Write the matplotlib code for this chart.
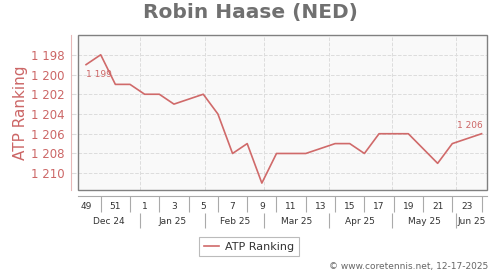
import datetime as dt

import matplotlib
matplotlib.use("Agg")
import matplotlib.pyplot as plt
from matplotlib.patches import Rectangle

# ISO weeks with a ranking (some weeks have no entry)
weeks = [49, 50, 51, 52, 1, 2, 3, 5, 6, 7, 8, 9, 10, 11, 12, 14, 15, 16, 17, 18, 19, 21, 22, 24]
ranks = [1199, 1198, 1201, 1201, 1202, 1202, 1203, 1202, 1204, 1208, 1207, 1211,
         1208, 1208, 1208, 1207, 1207, 1208, 1206, 1206, 1206, 1209, 1207, 1206]

week_ticks = [49, 51, 1, 3, 5, 7, 9, 11, 13, 15, 17, 19, 21, 23]
months = ["Dec 24", "Jan 25", "Feb 25", "Mar 25", "Apr 25", "May 25", "Jun 25"]
month_starts = [dt.date(2025, m, 1) for m in range(1, 7)]
first_day = dt.date(2024, 12, 6)

line_col = "#d06a6a"
text_col = "#cc6666"


def pos(w):
    # week number -> weeks since week 49 of 2024
    return w - 49 if w >= 49 else w + 3


x = [pos(w) for w in weeks]
xmin, xmax = -0.55, 27.37
bounds = [(d - first_day).days / 7 for d in month_starts]
edges = [xmin] + bounds + [xmax]
centers = [(edges[i] + edges[i + 1]) / 2 for i in range(len(months))]

fig = plt.figure(figsize=(5, 2.7), dpi=100)
ax = fig.add_axes([0.156, 0.2963, 0.818, 0.574])
ax.set_facecolor("#f9f9f9")

ax.plot(x, ranks, color=line_col, lw=1.2, label="ATP Ranking", zorder=3)
ax.set_xlim(xmin, xmax)
ax.set_ylim(1211.7, 1196)

# frame
ax.add_patch(Rectangle((0, 0), 1, 1, transform=ax.transAxes, fill=False,
                       edgecolor="#808080", lw=1.0, clip_on=False, zorder=4))
ax.spines["top"].set_visible(False)
ax.spines["right"].set_visible(False)
ax.spines["left"].set_position(("outward", 5))
ax.spines["left"].set_color("#e6b8b8")
ax.spines["bottom"].set_position(("outward", 4))
ax.spines["bottom"].set_color("#aaaaaa")

# y axis
yt = list(range(1198, 1211, 2))
ax.set_yticks(yt)
ax.set_yticklabels([f"{v:,}".replace(",", " ") for v in yt])
ax.tick_params(axis="y", length=3.6, direction="in", color="#dddddd",
               labelsize=8.5, labelcolor=text_col, pad=4.5)
ax.yaxis.grid(True, ls="--", color="#dddddd", lw=0.7)
for b in bounds:
    ax.axvline(b, ls="--", color="#dddddd", lw=0.7, zorder=1)

# week ticks
ax.set_xticks(range(1, 28, 2))
ax.set_xticklabels([])
ax.set_xticks(range(0, 27, 2), minor=True)
ax.set_xticklabels([str(w) for w in week_ticks], minor=True)
ax.tick_params(axis="x", which="major", length=11.5, color="#aaaaaa", width=0.8)
ax.tick_params(axis="x", which="minor", length=0, pad=5, labelsize=6.5, labelcolor="#333333")

# month row
sec = ax.secondary_xaxis(-0.148)
sec.spines["bottom"].set_visible(False)
sec.set_xticks(bounds)
sec.set_xticklabels([])
sec.set_xticks(centers, minor=True)
sec.set_xticklabels(months, minor=True)
sec.tick_params(axis="x", which="major", length=10.8, color="#aaaaaa", width=0.8)
sec.tick_params(axis="x", which="minor", length=0, pad=3, labelsize=6.5, labelcolor="#333333")

# value labels
ax.annotate("1 199", (x[0], ranks[0]), xytext=(13, -10), textcoords="offset pixels",
            ha="center", va="center", fontsize=6.5, color=text_col)
ax.annotate("1 206", (x[-1], ranks[-1]), xytext=(-12, 8), textcoords="offset pixels",
            ha="center", va="center", fontsize=6.5, color=text_col)

fig.text(0.5, 1 - 12.5 / 270, "Robin Haase (NED)", ha="center", va="center",
         fontsize=14.5, weight="bold", color="#707070")
fig.text(21 / 500, 1 - 113 / 270, "ATP Ranking", rotation=90, ha="center", va="center",
         fontsize=11, color=text_col)
fig.text(488 / 500, 1 - 266 / 270, "© www.coretennis.net, 12-17-2025", ha="right",
         va="center", fontsize=6.5, color="#666666")

leg = fig.legend(loc="center", bbox_to_anchor=(249 / 500, 1 - 246.5 / 270), fontsize=8,
                 fancybox=False, edgecolor="#bbbbbb", handlelength=1.4, handletextpad=0.5,
                 borderpad=0.4, framealpha=1)
leg.get_frame().set_linewidth(0.8)
for t in leg.get_texts():
    t.set_color("#333333")

fig.savefig("out.png", dpi=100)
